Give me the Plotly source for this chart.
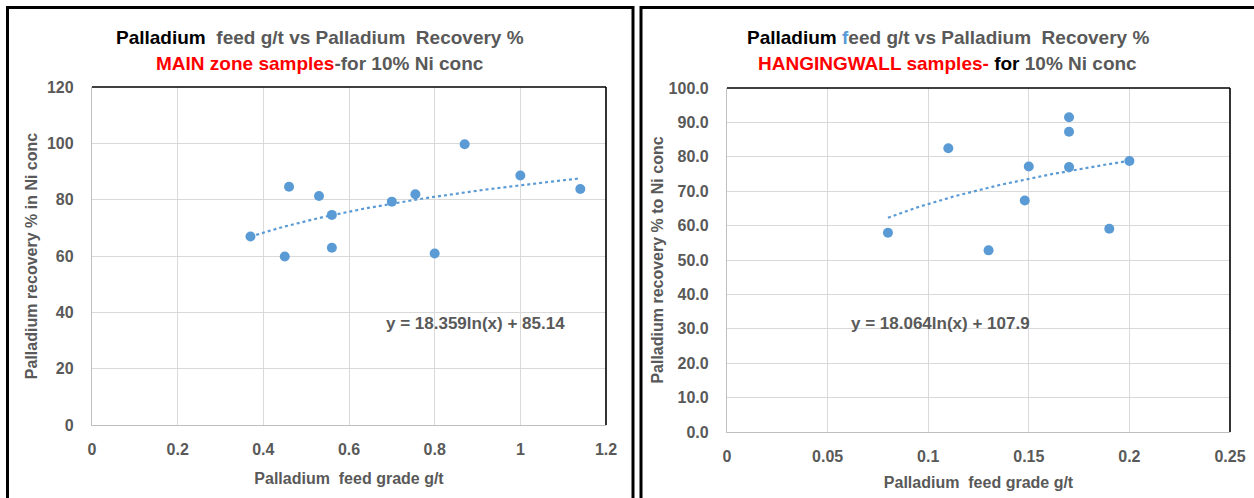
import numpy as np
import plotly.graph_objects as go

# MAIN zone samples
main_feed = [0.37, 0.45, 0.46, 0.53, 0.56, 0.56, 0.70, 0.755, 0.80, 0.87, 1.00, 1.14]
main_recovery = [66.9, 59.8, 84.6, 81.3, 74.6, 62.9, 79.3, 81.9, 60.9, 99.7, 88.6, 83.8]
main_fit = (18.359, 85.14)  # y = a*ln(x) + b

# HANGINGWALL samples
hw_feed = [0.08, 0.11, 0.13, 0.148, 0.15, 0.17, 0.17, 0.17, 0.19, 0.20]
hw_recovery = [57.9, 82.5, 52.8, 67.3, 77.2, 91.5, 87.3, 77.0, 59.1, 78.8]
hw_fit = (18.064, 107.9)

main_xticks = [0, 0.2, 0.4, 0.6, 0.8, 1, 1.2]
main_yticks = [0, 20, 40, 60, 80, 100, 120]
hw_xticks = [0, 0.05, 0.1, 0.15, 0.2, 0.25]
hw_yticks = [0, 10, 20, 30, 40, 50, 60, 70, 80, 90, 100]

W, H = 1254, 498
BLUE = "#5B9BD5"
GRAY = "#595959"
GRID = "#D9D9D9"
FONT = "Liberation Sans, Arial"


def px_x(v):
    return v / W


def px_y(v):
    return 1 - v / H


fig = go.Figure()


def trend(xs, coef):
    a, b = coef
    xx = np.linspace(min(xs), max(xs), 60)
    return xx, a * np.log(xx) + b


for xs, ys, coef, xa, ya in [
    (main_feed, main_recovery, main_fit, "x", "y"),
    (hw_feed, hw_recovery, hw_fit, "x2", "y2"),
]:
    tx, ty = trend(xs, coef)
    fig.add_trace(go.Scatter(x=tx, y=ty, mode="lines", xaxis=xa, yaxis=ya,
                             line=dict(color=BLUE, width=2.2, dash="dot"),
                             showlegend=False, hoverinfo="skip"))
    fig.add_trace(go.Scatter(x=xs, y=ys, mode="markers", xaxis=xa, yaxis=ya,
                             marker=dict(color=BLUE, size=10),
                             showlegend=False))

tick_font = dict(family=FONT, size=16, color=GRAY)
title_font = dict(family=FONT, size=16, color=GRAY)


def axis(dom, rng, ticks, fmt, title, standoff, label_gap):
    return dict(domain=dom, range=rng, tickvals=ticks,
                ticktext=[fmt(t) for t in ticks],
                showgrid=True, gridcolor=GRID, gridwidth=1.3,
                zeroline=False, showline=True, linecolor="#BFBFBF", linewidth=1.3,
                ticks="", tickfont=tick_font, ticklabelstandoff=label_gap,
                automargin=False,
                title=dict(text="<b>%s</b>" % title, font=title_font, standoff=standoff))


def fmt_plain(v):
    return "<b>%s</b>" % ("%g" % v)


def fmt_one(v):
    return "<b>%.1f</b>" % v


fig.update_layout(
    width=W, height=H, margin=dict(l=0, r=0, t=0, b=0, autoexpand=False),
    paper_bgcolor="white", plot_bgcolor="white",
    font=dict(family=FONT),
    xaxis=axis([px_x(92), px_x(606)], [0, 1.2], main_xticks, fmt_plain,
               "Palladium  feed grade g/t", 15, 10),
    yaxis=axis([px_y(425), px_y(87)], [0, 120], main_yticks, fmt_plain,
               "Palladium recovery % in Ni conc", 5, 14),
    xaxis2=axis([px_x(727), px_x(1230)], [0, 0.25], hw_xticks, fmt_plain,
                "Palladium  feed grade g/t", 12, 10),
    yaxis2=axis([px_y(432), px_y(88)], [0, 100], hw_yticks, fmt_one,
                "Palladium recovery % to Ni conc", 1, 14),
)
fig.layout.xaxis2.anchor = "y2"
fig.layout.yaxis2.anchor = "x2"

shapes = []
# top and right edges of each plot area
for (x0, x1, y0, y1) in [(92, 606, 87, 425), (727, 1230, 88, 432)]:
    shapes.append(dict(type="line", xref="paper", yref="paper",
                       x0=px_x(x0), x1=px_x(x1), y0=px_y(y0), y1=px_y(y0),
                       line=dict(color="black", width=1.6)))
    shapes.append(dict(type="line", xref="paper", yref="paper",
                       x0=px_x(x1), x1=px_x(x1), y0=px_y(y0), y1=px_y(y1),
                       line=dict(color="black", width=1.6)))
# panel frames
for (x0, x1) in [(7.5, 633), (641, 1258)]:
    shapes.append(dict(type="rect", xref="paper", yref="paper",
                       x0=px_x(x0), x1=px_x(x1), y0=px_y(520), y1=px_y(7.5),
                       line=dict(color="black", width=3), fillcolor="rgba(0,0,0,0)"))
fig.update_layout(shapes=shapes)

tfont = dict(family=FONT, size=19, color=GRAY)
ann = [
    dict(x=px_x(320), y=px_y(37),
         text="<b><span style='color:black'>Palladium</span>  feed g/t vs Palladium  Recovery %</b>"),
    dict(x=px_x(320), y=px_y(63),
         text="<b><span style='color:#FF0000'>MAIN zone samples</span>-for 10% Ni conc</b>"),
    dict(x=px_x(948), y=px_y(37),
         text="<b><span style='color:black'>Palladium</span> <span style='color:#5B9BD5'>f</span>eed g/t vs Palladium  Recovery %</b>"),
    dict(x=px_x(948), y=px_y(63),
         text="<b><span style='color:#FF0000'>HANGINGWALL samples-</span> <span style='color:black'>for</span> 10% Ni conc</b>"),
]
for a in ann:
    fig.add_annotation(xref="paper", yref="paper", showarrow=False,
                       xanchor="center", yanchor="middle", font=tfont, **a)

efont = dict(family=FONT, size=17, color=GRAY)
fig.add_annotation(xref="paper", yref="paper", x=px_x(475), y=px_y(323), showarrow=False,
                   text="<b>y = %.3fln(x) + %.2f</b>" % main_fit, font=efont)
fig.add_annotation(xref="paper", yref="paper", x=px_x(1032), y=px_y(323), showarrow=False,
                   text="<b>y = %.3fln(x) + %.1f</b>" % hw_fit, font=efont)

fig.write_html("out.html")
